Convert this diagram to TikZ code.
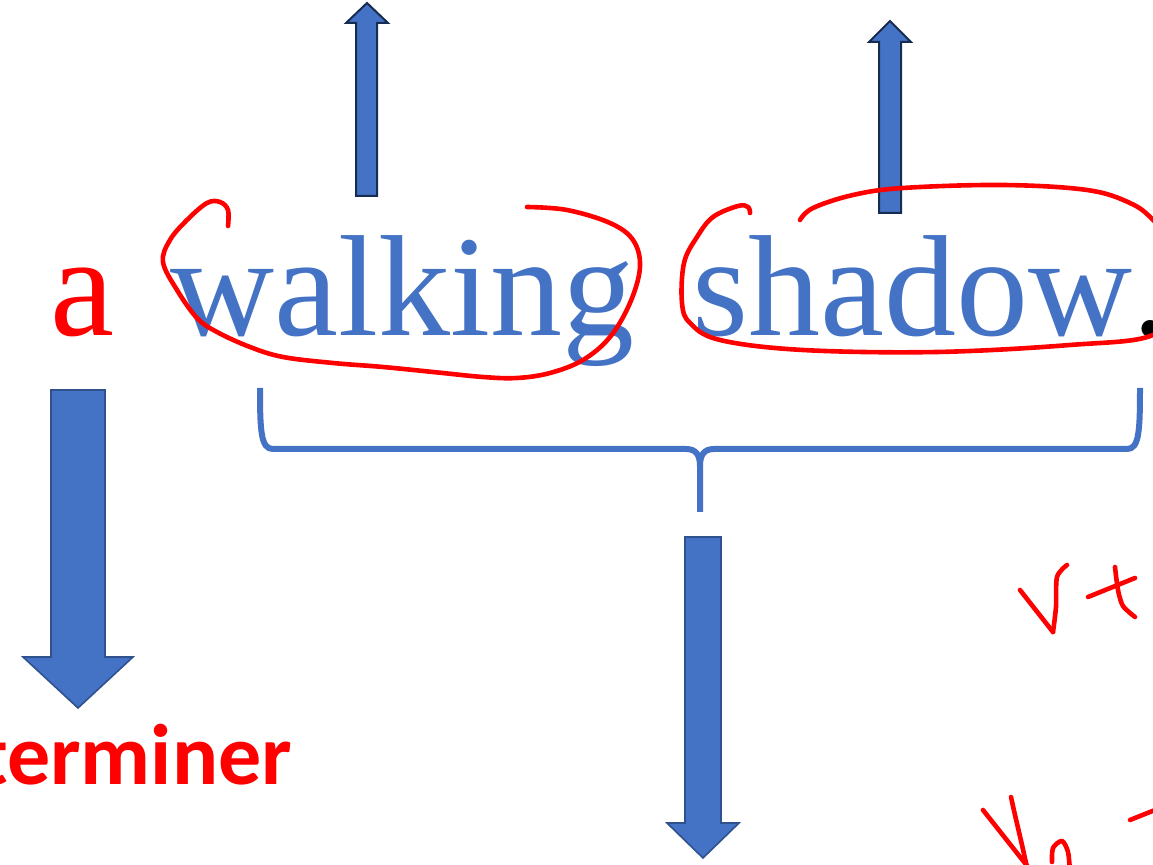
\documentclass[tikz,border=0pt]{standalone}
\usepackage{fontspec}
\setmainfont{Liberation Serif}
\newfontfamily\labelfont{Carlito}
\definecolor{wordblue}{HTML}{4472C4}
\definecolor{arrowline}{HTML}{2F528F}
\definecolor{arrowdark}{HTML}{172C51}
\definecolor{inkred}{HTML}{FF0000}

\begin{document}
\begin{tikzpicture}[x=0.5pt, y=-0.5pt,
    word/.style={inner sep=0pt, anchor=base west, font=\fontsize{72}{72}\selectfont},
    blockup/.style={fill=wordblue, draw=arrowdark, line width=1pt},
    blockdown/.style={fill=wordblue, draw=arrowline, line width=0.8pt},
    bracket/.style={draw=wordblue, line width=3pt},
    ink/.style={draw=inkred, line width=2.3pt, line cap=round, line join=round}]
        \clip (0,0) rectangle (1153,865);

        % the phrase
        \node[word, text=inkred] (art) at (50,336) {a};
        \node[word, text=wordblue] (walk) at (170,336) {walking};
        \node[word, text=wordblue] (shad) at (692,336) {shadow\textcolor{black}{.}};
        \node[inner sep=0pt, anchor=base west, text=inkred,
              font=\labelfont\bfseries\fontsize{43}{43}\selectfont] (det) at (-22,785) {terminer};

        % block arrows
        \draw[blockup] (356,196) -- (356,23) -- (346,23) -- (367,3) -- (388,23) -- (377,23) -- (377,196) -- cycle;
        \draw[blockup] (879,213) -- (879,42) -- (869,42) -- (890,21) -- (911,42) -- (901,42) -- (901,213) -- cycle;
        \draw[blockdown] (51,390) -- (105,390) -- (105,657) -- (133,657) -- (78,708) -- (23,657) -- (51,657) -- cycle;
        \draw[blockdown] (685,537) -- (721,537) -- (721,823) -- (739,823) -- (703,858) -- (667,823) -- (685,823) -- cycle;

        % brace under both words
        \coordinate (bl) at (260,388);
        \coordinate (br) at (1140,388);
        \coordinate (bm) at (700,466);
        \draw[bracket] (bl) .. controls (260,432) and (261,449) .. (273,449) -- (686,449)
            .. controls (696,449) and (700,455) .. (bm) -- (700,512);
        \draw[bracket] (br) .. controls (1140,432) and (1139,449) .. (1127,449) -- (714,449)
            .. controls (704,449) and (700,455) .. (bm);

        % pen marks
        \draw[ink] plot[smooth, tension=0.6] coordinates {(228,226) (228,210) (220,202) (207,203) (187,220)
            (170,240) (163,262) (177,290) (197,318) (217,332) (250,347) (283,357) (333,363) (383,367)
            (433,372) (483,377) (517,378) (550,373) (583,360) (610,337) (630,303) (640,267) (633,240)
            (610,223) (567,210) (527,207)};
        \draw[ink] plot[smooth, tension=0.6] coordinates {(750,213) (748,207) (738,206) (713,217) (697,237)
            (684,263) (682,303) (690,323) (720,340) (803,350) (937,352) (1070,345) (1153,335) (1178,300)
            (1176,250) (1153,220) (1130,203) (1087,190) (1003,185) (903,188) (853,195) (813,208) (800,220)};
        \draw[ink] (1020,590) -- (1053,632);
        \draw[ink] plot[smooth] coordinates {(1053,632) (1056,607) (1057,577) (1067,565)};
        \draw[ink] (1088,597) -- (1135,578);
        \draw[ink] plot[smooth] coordinates {(1115,567) (1118,590) (1123,606) (1135,617)};
        \draw[ink] (983,810) -- (1032,872);
        \draw[ink] plot[smooth] coordinates {(1011,797) (1015,815) (1022,845) (1028,872)};
        \draw[ink] plot[smooth] coordinates {(1052,862) (1053,848) (1062,841) (1068,852) (1070,872)};
        \draw[ink] (1130,820) -- (1160,808);
\end{tikzpicture}
\end{document}
